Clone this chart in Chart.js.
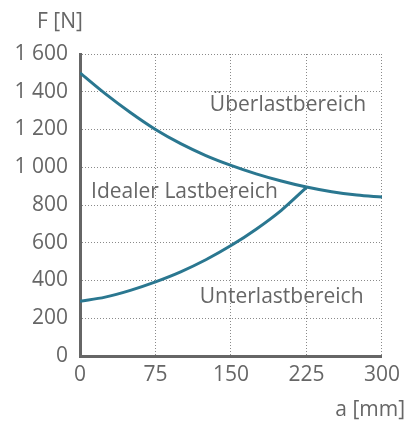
<!DOCTYPE html>
<html>
<head>
<meta charset="utf-8">
<script src="https://cdn.jsdelivr.net/npm/chart.js@4"></script>
<style>
  html, body { margin: 0; padding: 0; background: #fff; }
  #wrap { width: 406px; height: 425px; }
</style>
</head>
<body>
<div id="wrap"><canvas id="c" width="406" height="425"></canvas></div>
<script>
// Werte
const aUpper = [0, 25, 50, 75, 100, 125, 150, 175, 200, 225, 250, 275, 300];
const fUpper = [1500, 1390, 1290, 1200, 1125, 1062, 1010, 965, 927, 895, 870, 853, 842];
const aLower = [0, 25, 50, 75, 100, 125, 150, 175, 200, 225];
const fLower = [290, 312, 348, 393, 446, 510, 585, 672, 772, 893];

const xTicks = [0, 75, 150, 225, 300];
const yTicks = [0, 200, 400, 600, 800, 1000, 1200, 1400, 1600];

const regionLabels = [
  { text: 'Überlastbereich', a: 129, f: 1330 },
  { text: 'Idealer Lastbereich', a: 11, f: 869 },
  { text: 'Unterlastbereich', a: 119, f: 313 },
];

const FONT = '"Open Sans", "Noto Sans", sans-serif';
const LINE = '#2a7790';
const TEXT = '#666666';

const toPoints = (xs, ys) => xs.map((x, i) => ({ x, y: ys[i] }));
const fmt = v => String(v).replace(/\B(?=(\d{3})+(?!\d))/g, ' ');

// Beschriftungen im Diagramm und Achsentitel
const textPlugin = {
  id: 'texts',
  afterDraw(chart) {
    const { ctx, scales: { x, y } } = chart;
    ctx.save();
    ctx.fillStyle = TEXT;
    ctx.font = '21px ' + FONT;
    ctx.textBaseline = 'middle';
    ctx.textAlign = 'left';
    regionLabels.forEach(l => {
      ctx.fillText(l.text, x.getPixelForValue(l.a), y.getPixelForValue(l.f));
    });
    ctx.textAlign = 'center';
    ctx.fillText('F [N]', 60, 22);
    ctx.textAlign = 'right';
    ctx.fillText('a [mm]', 405, 410);
    ctx.restore();
  },
};

new Chart(document.getElementById('c'), {
  type: 'line',
  data: {
    datasets: [
      {
        data: toPoints(aUpper, fUpper),
        borderColor: LINE,
        borderWidth: 3,
        pointRadius: 0,
        cubicInterpolationMode: 'monotone',
        fill: false,
      },
      {
        data: toPoints(aLower, fLower),
        borderColor: LINE,
        borderWidth: 3,
        pointRadius: 0,
        cubicInterpolationMode: 'monotone',
        fill: false,
      },
    ],
  },
  options: {
    responsive: false,
    animation: false,
    layout: { padding: { top: 54, right: 24, left: 0, bottom: 0 } },
    plugins: { legend: { display: false }, tooltip: { enabled: false } },
    scales: {
      x: {
        type: 'linear',
        min: 0,
        max: 300,
        afterBuildTicks: s => { s.ticks = xTicks.map(v => ({ value: v })); },
        afterFit: s => { s.height = 69; },
        ticks: { color: TEXT, font: { family: FONT, size: 21 }, padding: 6, maxRotation: 0 },
        grid: { color: '#8a8a8a', lineWidth: 1, drawTicks: false },
        border: { color: '#666', width: 3, dash: [1, 2] },
      },
      y: {
        min: 0,
        max: 1600,
        afterBuildTicks: s => { s.ticks = yTicks.map(v => ({ value: v })); },
        afterFit: s => { s.width = 80; },
        ticks: { color: TEXT, font: { family: FONT, size: 21 }, padding: 12, callback: v => fmt(v) },
        grid: { color: '#8a8a8a', lineWidth: 1, drawTicks: false },
        border: { color: '#666', width: 3, dash: [1, 2] },
      },
    },
  },
  plugins: [textPlugin],
});
</script>
</body>
</html>
